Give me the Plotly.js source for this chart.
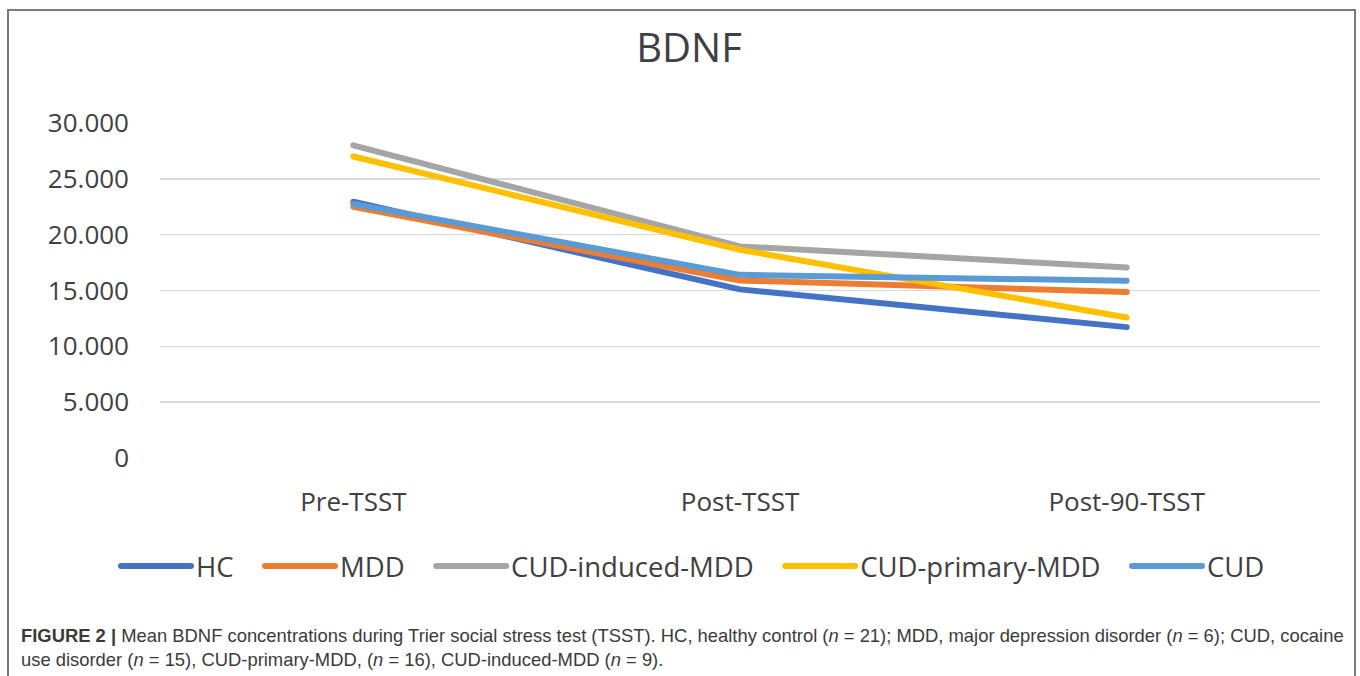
<!DOCTYPE html>
<html>
<head>
<meta charset="utf-8">
<script src="https://cdn.plot.ly/plotly-3.0.1.min.js"></script>
<style>
html,body{margin:0;padding:0;background:#fff;}
#chart{width:1360px;height:676px;}
.scatterlayer path.js-line, .legendlines path{stroke-linecap:round;stroke-linejoin:round;}
</style>
</head>
<body>
<div id="chart"></div>
<script>
const categories = ["Pre-TSST", "Post-TSST", "Post-90-TSST"];
const seriesNames = ["HC", "MDD", "CUD-induced-MDD", "CUD-primary-MDD", "CUD"];
const HC = [22950, 15100, 11720];
const MDD = [22500, 15900, 14860];
const CUD_induced_MDD = [28000, 18950, 17070];
const CUD_primary_MDD = [27000, 18650, 12580];
const CUD = [22750, 16400, 15870];
const tickVals = [0, 5000, 10000, 15000, 20000, 25000, 30000];
const tickText = ["0", "5.000", "10.000", "15.000", "20.000", "25.000", "30.000"];
const titleText = "BDNF";
const captionText = "<b>FIGURE 2 |</b> Mean BDNF concentrations during Trier social stress test (TSST). HC, healthy control (<i>n</i> = 21); MDD, major depression disorder (<i>n</i> = 6); CUD, cocaine<br>use disorder (<i>n</i> = 15), CUD-primary-MDD, (<i>n</i> = 16), CUD-induced-MDD (<i>n</i> = 9).";

const values = [HC, MDD, CUD_induced_MDD, CUD_primary_MDD, CUD];
const colors = ["#4472C4", "#ED7D31", "#A5A5A5", "#FFC000", "#5B9BD5"];
const gap = "\u00a0\u00a0\u00a0";

const traces = seriesNames.map((n, i) => ({
  type: "scatter",
  mode: "lines",
  name: i < seriesNames.length - 1 ? n + gap : n,
  x: categories,
  y: values[i],
  line: {color: colors[i], width: 6},
  hoverinfo: "skip"
}));

// plot area: x 160..1320, y 123..458
const L = 160, R = 1320, T = 123, B = 458;
const px = v => (v - L) / (R - L);
const py = v => (B - v) / (B - T);

const layout = {
  width: 1360, height: 676,
  margin: {l: L, r: 1360 - R, t: T, b: 676 - B, pad: 0},
  paper_bgcolor: "#fff",
  plot_bgcolor: "#fff",
  font: {family: "Open Sans, sans-serif", color: "#595959"},
  title: {
    text: titleText,
    x: 689 / 1360, xref: "container", xanchor: "center",
    y: 1 - 48 / 676, yref: "container", yanchor: "middle",
    font: {family: "Open Sans, sans-serif", size: 40, color: "#404040"}
  },
  xaxis: {
    type: "category",
    range: [-0.5, 2.5],
    showgrid: false, zeroline: false, showline: false,
    ticks: "",
    ticklabelstandoff: 26,
    tickfont: {size: 26, color: "#404040"},
    fixedrange: true
  },
  yaxis: {
    range: [0, 30000],
    tickvals: tickVals, ticktext: tickText,
    showgrid: true, gridcolor: "#D9D9D9", gridwidth: 1.5,
    zeroline: false, showline: false,
    ticks: "",
    ticklabelstandoff: 30,
    tickfont: {size: 26, color: "#404040"},
    fixedrange: true
  },
  showlegend: true,
  legend: {
    orientation: "h",
    xref: "container", yref: "container",
    x: 116 / 1360, xanchor: "left",
    y: 1 - 566 / 676, yanchor: "middle",
    font: {family: "Open Sans, sans-serif", size: 27.5, color: "#404040"},
    itemwidth: 70,
    traceorder: "normal",
    bgcolor: "rgba(0,0,0,0)"
  },
  shapes: [{
    type: "rect", xref: "paper", yref: "paper",
    x0: px(8), x1: px(1355), y0: py(700), y1: py(10),
    line: {color: "#7a7a7a", width: 2}, fillcolor: "rgba(0,0,0,0)", layer: "below"
  }],
  annotations: [{
    text: captionText,
    xref: "paper", yref: "paper",
    x: px(19), y: py(623), xanchor: "left", yanchor: "top",
    align: "left", showarrow: false,
    font: {family: "Liberation Sans, Arial, sans-serif", size: 18.4, color: "#3a3a3a"}
  }]
};

Plotly.newPlot("chart", traces, layout, {displayModeBar: false, staticPlot: true});
</script>
</body>
</html>
